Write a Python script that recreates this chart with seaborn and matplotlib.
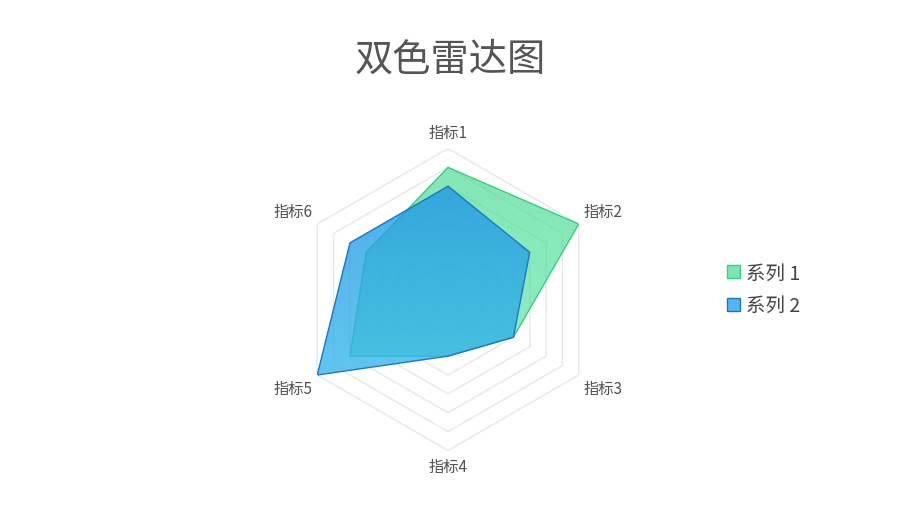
import numpy as np
import matplotlib
matplotlib.use("Agg")
import matplotlib.pyplot as plt
from matplotlib.patches import Patch
from matplotlib.image import BboxImage
from matplotlib.colors import to_rgb
import seaborn as sns

# 数据
labels = ["指标1", "指标2", "指标3", "指标4", "指标5", "指标6"]
series_names = ["系列 1", "系列 2"]
values_1 = [7, 8, 4, 3, 6, 5]
values_2 = [6, 5, 4, 3, 8, 6]
max_value = 8

# 渐变色 (上 -> 下)
GRAD = [("#3fd98a", "#5ae6b0"), ("#1a8fe6", "#3cc4ec")]
ALPHA = [0.65, 0.78]
EDGE = ["#3ccc80", "#1b78c0"]
LEGEND_FILL = ["#7de5b0", "#5ab4f0"]

sns.set_theme(style="white")
plt.rcParams["font.family"] = ["Noto Sans CJK SC", "DejaVu Sans"]

fig = plt.figure(figsize=(9, 5.06), dpi=100)
ax = fig.add_axes([0.33, 0.1077, 0.3356, 0.5968], projection="polar")
ax.set_theta_zero_location("N")
ax.set_theta_direction(-1)

n = len(labels)
angles = np.linspace(0, 2 * np.pi, n, endpoint=False)
closed = np.append(angles, angles[0])

# 六边形网格
for r in range(1, max_value + 1):
    ax.plot(closed, [r] * (n + 1), color="#e8e8e8", lw=1.0, zorder=0)


def gradient(top, bottom, alpha):
    t = np.linspace(0, 1, 256)[:, None]
    c0, c1 = np.array(to_rgb(top)), np.array(to_rgb(bottom))
    rgb = c0 * (1 - t[..., None]) + c1 * t[..., None]
    rgba = np.concatenate([rgb, np.full((256, 1, 1), alpha)], axis=2)
    return np.repeat(rgba, 2, axis=1)


for i, (vals, (c0, c1), a, ec) in enumerate(zip([values_1, values_2], GRAD, ALPHA, EDGE)):
    v = np.append(vals, vals[0])
    poly = ax.fill(closed, v, color="none", lw=0)[0]
    img = BboxImage(ax.bbox, interpolation="bilinear", zorder=2 + i)
    img.set_data(gradient(c0, c1, a))
    img.set_clip_path(poly)
    ax.add_artist(img)
    sns.lineplot(x=closed, y=v, sort=False, estimator=None, color=ec, lw=1.0, ax=ax, zorder=2.5 + i)

ax.set_ylim(0, max_value)
ax.set_xticks([])
ax.set_yticks([])
ax.grid(False)
ax.spines["polar"].set_visible(False)
ax.set_facecolor("none")

# 指标标签
offsets = [(0, 16, "center"), (5, 13, "left"), (5, -13, "left"),
           (0, -16, "center"), (-5, -13, "right"), (-5, 13, "right")]
for ang, lab, (dx, dy, ha) in zip(angles, labels, offsets):
    ax.annotate(lab, xy=(ang, max_value), xytext=(dx, dy), textcoords="offset pixels",
                ha=ha, va="center", fontsize=11, color="#505050", annotation_clip=False)

fig.text(0.5, 0.882, "双色雷达图", ha="center", va="center", fontsize=27.5, color="#555555")

handles = [Patch(facecolor=fc, edgecolor=ec, label=s)
           for fc, ec, s in zip(LEGEND_FILL, EDGE, series_names)]
fig.legend(handles=handles, loc="center left", bbox_to_anchor=(0.808, 0.426),
           frameon=False, fontsize=14, handlelength=0.68, handleheight=0.68,
           handletextpad=0.3, labelspacing=0.6, borderpad=0, borderaxespad=0,
           labelcolor="#444444")

fig.savefig("out.png", dpi=100, facecolor="white")
